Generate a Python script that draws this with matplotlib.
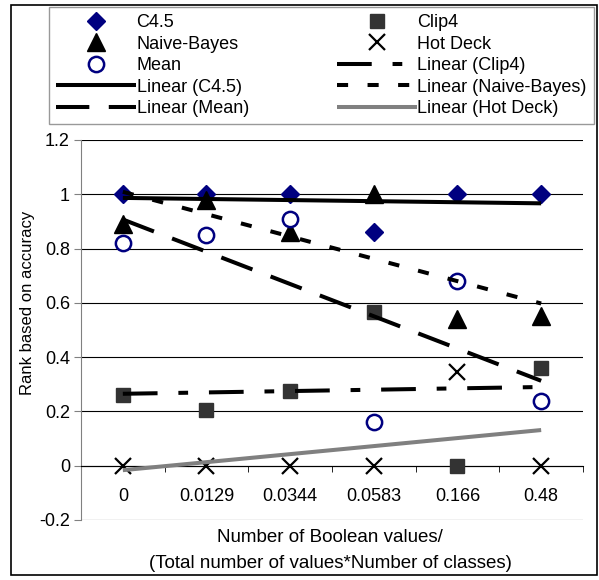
import numpy as np
import matplotlib
matplotlib.use('Agg')
import matplotlib.pyplot as plt
from matplotlib.lines import Line2D
from matplotlib.patches import Rectangle

plt.rcParams['font.family'] = ['Liberation Sans', 'DejaVu Sans']
plt.rcParams['lines.scale_dashes'] = False

# data
categories = ['0', '0.0129', '0.0344', '0.0583', '0.166', '0.48']
c45 = [1.0, 1.0, 1.0, 0.86, 1.0, 1.0]
naive_bayes = [0.89, 0.98, 0.86, 1.0, 0.54, 0.55]
mean_imp = [0.82, 0.85, 0.91, 0.16, 0.68, 0.24]
clip4 = [0.26, 0.205, 0.275, 0.565, 0.0, 0.36]
hot_deck = [0.0, 0.0, 0.0, 0.0, 0.345, 0.0]

FS = 13
W, H = 599, 580
fig = plt.figure(figsize=(W / 100, H / 100), dpi=100)
ax = fig.add_axes([81 / W, 1 - 520 / H, (583 - 81) / W, (520 - 140) / H])

x = np.arange(len(categories))
navy = '#000080'

mk_c45 = dict(ls='none', marker='D', ms=8.8, color=navy)
mk_nb = dict(ls='none', marker='^', ms=12.5, color='black')
mk_mean = dict(ls='none', marker='o', ms=11, mfc='white', mec=navy, mew=1.8)
mk_clip = dict(ls='none', marker='s', ms=10.5, color='#333333')
mk_hd = dict(ls='none', marker='x', ms=11, mew=1.6, color='black')

# markers
ax.plot(x, c45, zorder=3, **mk_c45)
ax.plot(x, naive_bayes, zorder=3, **mk_nb)
ax.plot(x, mean_imp, zorder=3, **mk_mean)
ax.plot(x, clip4, zorder=3, **mk_clip)
ax.plot(x, hot_deck, zorder=3, **mk_hd)


# linear trendlines (least squares over category index, as Excel does)
def trend(vals):
    k, b = np.polyfit(x, vals, 1)
    return k * x + b


lw = 2.9
st_c45 = dict(color='black', lw=lw, solid_capstyle='butt')
st_mean = dict(color='black', lw=lw, dashes=(24, 14))
st_clip = dict(color='black', lw=lw, dashes=(25, 15, 7, 15))
st_nb = dict(color='black', lw=lw, dashes=(8, 14))
st_hd = dict(color='#808080', lw=lw, solid_capstyle='butt')

ax.plot(x, trend(c45), zorder=4, **st_c45)
ax.plot(x, trend(naive_bayes), zorder=4, **st_nb)
ax.plot(x, trend(mean_imp), zorder=4, **st_mean)
ax.plot(x, trend(clip4), zorder=4, **st_clip)
ax.plot(x, trend(hot_deck), zorder=4, **st_hd)

# axes
ax.set_xlim(-0.5, len(categories) - 0.5)
ax.set_ylim(-0.2, 1.2)
ax.set_yticks(np.arange(-0.2, 1.21, 0.2))
ax.set_yticklabels(['-0.2', '0', '0.2', '0.4', '0.6', '0.8', '1', '1.2'])
ax.yaxis.grid(True, color='black', lw=0.8)
ax.set_axisbelow(True)
ax.spines['top'].set_visible(False)
ax.spines['right'].set_visible(False)
ax.spines['left'].set_color('#808080')
ax.spines['bottom'].set_position(('data', 0))
ax.spines['bottom'].set_color('black')
ax.spines['bottom'].set_linewidth(0.8)
ax.tick_params(axis='y', length=5, color='#808080', labelsize=FS, pad=3)
ax.set_xticks(x)
ax.set_xticklabels(categories)
ax.set_xticks(np.arange(-0.5, len(categories)), minor=True)
ax.tick_params(axis='x', which='major', length=0, labelsize=FS, pad=16)
ax.tick_params(axis='x', which='minor', length=4, color='black', direction='out')

fig.text(28 / W, 1 - 303 / H, 'Rank based on accuracy', rotation=90,
         ha='center', va='center', fontsize=12)
fig.text(330 / W, 1 - 538 / H, 'Number of Boolean values/', ha='center', va='center', fontsize=13.5)
fig.text(330 / W, 1 - 564 / H, '(Total number of values*Number of classes)',
         ha='center', va='center', fontsize=13.5)

# legend, column by column as in the reference
handles = [
    Line2D([], [], **mk_c45),
    Line2D([], [], **mk_nb),
    Line2D([], [], **mk_mean),
    Line2D([], [], **st_c45),
    Line2D([], [], **st_mean),
    Line2D([], [], **mk_clip),
    Line2D([], [], **mk_hd),
    Line2D([], [], **st_clip),
    Line2D([], [], **st_nb),
    Line2D([], [], **st_hd),
]
labels = ['C4.5', 'Naive-Bayes', 'Mean', 'Linear (C4.5)', 'Linear (Mean)',
          'Clip4', 'Hot Deck', 'Linear (Clip4)', 'Linear (Naive-Bayes)', 'Linear (Hot Deck)']
leg = fig.legend(handles, labels, ncol=2, loc='upper left', mode='expand',
                 bbox_to_anchor=(49 / W, 1 - 118 / H, (594 - 49) / W, 111 / H),
                 fontsize=FS, handlelength=4.4, handletextpad=0.05, labelspacing=0.25,
                 borderpad=0.4, borderaxespad=0, fancybox=False, frameon=True)
leg.get_frame().set_edgecolor('#808080')
leg.get_frame().set_linewidth(1.0)

# chart border
fig.patches.append(Rectangle((11 / W, 1 - 575 / H), (597 - 11) / W, (575 - 5) / H,
                             transform=fig.transFigure, fill=False, edgecolor='black', lw=1.2))

fig.savefig('out.png', dpi=100)
